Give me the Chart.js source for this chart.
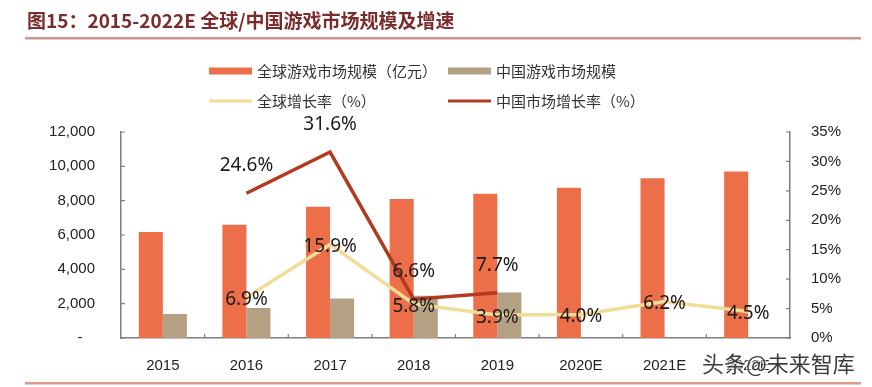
<!DOCTYPE html>
<html lang="zh">
<head>
<meta charset="UTF-8">
<title>全球/中国游戏市场规模及增速</title>
<script src="https://cdn.jsdelivr.net/npm/chart.js"></script>
<style>
  html, body { margin: 0; padding: 0; background: #fff; }
  #wrap { width: 872px; height: 387px; }
</style>
</head>
<body>
<div id="wrap"><canvas id="gameChart" width="872" height="387"></canvas></div>
<script>
// data
const years = ['2015', '2016', '2017', '2018', '2019', '2020E', '2021E', '2022E'];
const globalMarket = [6180, 6600, 7650, 8100, 8400, 8750, 9300, 9700];   // 亿元
const chinaMarket = [1400, 1750, 2300, 2460, 2650, null, null, null];
const globalGrowth = [null, 6.9, 15.9, 5.8, 3.9, 4.0, 6.2, 4.5];          // %
const chinaGrowth = [null, 24.6, 31.6, 6.6, 7.7, null, null, null];

const leftTicks = [0, 2000, 4000, 6000, 8000, 10000, 12000];
const rightTicks = [0, 5, 10, 15, 20, 25, 30, 35];

const titleText = '图15：2015-2022E 全球/中国游戏市场规模及增速';
const watermark = '头条@未来智库';

const CJK = '"Noto Sans CJK SC", "Noto Sans", sans-serif';
const AXIS_FONT = '"Liberation Sans", Arial, sans-serif';

// title, rules, legend, inward ticks, labels
const decorations = {
    id: 'decorations',
    afterDatasetsDraw(chart) {
        const ctx = chart.ctx;
        ctx.save();
        ctx.textAlign = 'center';
        ctx.textBaseline = 'middle';
        ctx.font = '19px "Noto Sans", sans-serif';
        ctx.fillStyle = '#1a1a1a';
        chart.data.datasets.forEach((ds, i) => {
            if (ds.type !== 'line') return;
            const meta = chart.getDatasetMeta(i);
            meta.data.forEach((pt, j) => {
                const v = ds.data[j];
                if (v == null) return;
                ctx.fillText(v.toFixed(1) + '%', pt.x, pt.y + ds.labelOffset);
            });
        });
        ctx.restore();
    },
    afterDraw(chart) {
        const ctx = chart.ctx;
        const area = chart.chartArea;
        const x = chart.scales.x, y = chart.scales.y, y1 = chart.scales.y1;
        ctx.save();

        // title
        ctx.fillStyle = '#7a2c2c';
        ctx.font = 'bold 19px ' + CJK;
        ctx.textBaseline = 'middle';
        ctx.textAlign = 'left';
        ctx.fillText(titleText, 27, 21);

        // rules
        ctx.fillStyle = '#c79a8c';
        ctx.fillRect(25, 37, 836, 2.5);
        ctx.fillStyle = '#d99a86';
        ctx.fillRect(25, 382, 836, 2.5);

        // inward tick marks
        ctx.strokeStyle = '#7f7f7f';
        ctx.lineWidth = 1.2;
        ctx.beginPath();
        leftTicks.forEach(v => {
            const py = y.getPixelForValue(v);
            ctx.moveTo(area.left, py); ctx.lineTo(area.left + 4, py);
        });
        rightTicks.forEach(v => {
            const py = y1.getPixelForValue(v);
            ctx.moveTo(area.right, py); ctx.lineTo(area.right - 4, py);
        });
        for (let i = 1; i < years.length; i++) {
            const px = (x.getPixelForValue(i - 1) + x.getPixelForValue(i)) / 2;
            ctx.moveTo(px, area.bottom); ctx.lineTo(px, area.bottom - 4);
        }
        ctx.stroke();

        // legend in two columns
        const cols = [209, 448];
        const rows = [71, 101];
        ctx.font = '15px ' + CJK;
        ctx.textBaseline = 'middle';
        chart.data.datasets.forEach((ds, i) => {
            const cx = cols[i % 2], cy = rows[Math.floor(i / 2)];
            if (ds.type === 'line') {
                ctx.fillStyle = ds.borderColor;
                ctx.fillRect(cx, cy - 1.5, 43, 3);
            } else {
                ctx.fillStyle = ds.backgroundColor;
                ctx.fillRect(cx, cy - 3.5, 43, 7);
            }
            ctx.fillStyle = '#333';
            ctx.fillText(ds.label, cx + 48, cy);
        });

        // watermark
        ctx.font = '22px ' + CJK;
        ctx.textAlign = 'left';
        ctx.lineWidth = 2.5;
        ctx.strokeStyle = 'rgba(255,255,255,0.6)';
        ctx.strokeText(watermark, 702, 364);
        ctx.fillStyle = 'rgba(40,40,40,0.9)';
        ctx.fillText(watermark, 702, 364);

        ctx.restore();
    }
};

new Chart(document.getElementById('gameChart'), {
    data: {
        labels: years,
        datasets: [
            {
                type: 'bar', label: '全球游戏市场规模（亿元）', data: globalMarket,
                backgroundColor: '#ed6f49', yAxisID: 'y', order: 2,
                categoryPercentage: 0.575, barPercentage: 1
            },
            {
                type: 'bar', label: '中国游戏市场规模', data: chinaMarket,
                backgroundColor: '#b4a083', yAxisID: 'y', order: 2,
                categoryPercentage: 0.575, barPercentage: 1
            },
            {
                type: 'line', label: '全球增长率（%）', data: globalGrowth,
                borderColor: '#f2dc96', borderWidth: 3.5, pointRadius: 0,
                yAxisID: 'y1', order: 1, labelOffset: 2.5
            },
            {
                type: 'line', label: '中国市场增长率（%）', data: chinaGrowth,
                borderColor: '#b13a1f', borderWidth: 3.5, pointRadius: 0,
                yAxisID: 'y1', order: 0, labelOffset: -27.5
            }
        ]
    },
    options: {
        responsive: false,
        animation: false,
        devicePixelRatio: 1,
        layout: { padding: { top: 132, left: 0, right: 0, bottom: 0 } },
        plugins: {
            legend: { display: false },
            tooltip: { enabled: false }
        },
        scales: {
            x: {
                grid: { display: false },
                border: { color: '#7f7f7f', width: 1.5 },
                ticks: { color: '#222', font: { family: AXIS_FONT, size: 15 }, padding: 11 },
                afterFit(s) { s.height = 49; }
            },
            y: {
                position: 'left',
                min: 0, max: 12000,
                afterBuildTicks(s) { s.ticks = leftTicks.map(v => ({ value: v })); },
                grid: { display: false },
                border: { color: '#7f7f7f', width: 1.5 },
                ticks: {
                    color: '#222', font: { family: AXIS_FONT, size: 15 }, padding: 18,
                    callback: v => v === 0 ? '-   ' : v.toLocaleString('en-US')
                },
                afterFit(s) { s.width = 121; }
            },
            y1: {
                position: 'right',
                min: 0, max: 35,
                afterBuildTicks(s) { s.ticks = rightTicks.map(v => ({ value: v })); },
                grid: { display: false },
                border: { color: '#7f7f7f', width: 1.5 },
                ticks: {
                    color: '#222', font: { family: AXIS_FONT, size: 15 }, padding: 13,
                    callback: v => v + '%'
                },
                afterFit(s) { s.width = 82; }
            }
        }
    },
    plugins: [decorations]
});
</script>
</body>
</html>
